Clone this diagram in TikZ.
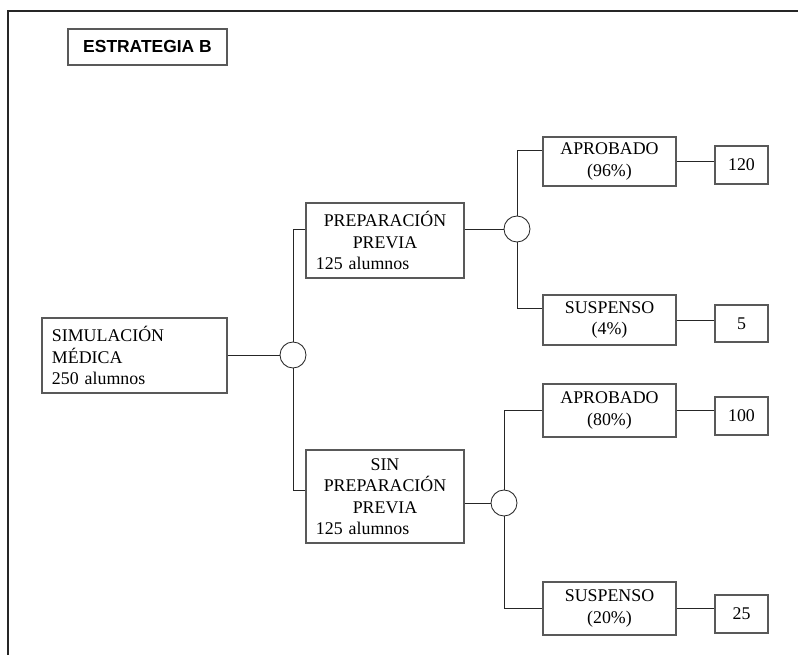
\documentclass[tikz,border=0pt]{standalone}
\usepackage{fontspec}
\setmainfont{Liberation Serif}
\newfontfamily\headfont{Liberation Sans}

\begin{document}
\begin{tikzpicture}[x=0.025cm,y=-0.025cm,line width=0.6pt,draw=black!85,
    caja/.style={draw=black!65,line width=0.8pt,inner xsep=0.25cm,inner ysep=0pt,
      font=\fontsize{12.7}{15.2}\selectfont},
    txtbox/.style={caja,align=left,text width=#1},
    probbox/.style={caja,align=center,minimum width=3.325cm,minimum height=#1},
    numbox/.style={caja,minimum width=1.325cm,minimum height=0.95cm},
    nudo/.style={circle,draw=black!85,line width=0.6pt,fill=white,minimum size=0.65cm,inner sep=0pt}]
                \useasboundingbox (0,0) rectangle (798,655);
                \draw[line width=1.6pt,black!85] (8,660) -- (8,11) -- (805,11);

                \node[caja,minimum width=3.975cm,minimum height=0.9cm,font=\headfont\bfseries\fontsize{12.4}{14}\selectfont] (titulo) at (147.5,47) {ESTRATEGIA B};

                \node[txtbox=4.125cm,minimum height=1.875cm] (sim) at (134.5,355.5) {SIMULACIÓN\\MÉDICA\\250 alumnos};
                \node[nudo] (c1) at (293,355) {};

                \node[txtbox=3.45cm,minimum height=1.875cm] (prep) at (385,240.5) {\centering PREPARACIÓN\\PREVIA\par\raggedright 125 alumnos};
                \node[txtbox=3.45cm,minimum height=2.325cm] (sin) at (385,496.5) {\centering SIN\\PREPARACIÓN\\PREVIA\par\raggedright 125 alumnos};

                \node[nudo] (c2) at (517,229) {};
                \node[nudo] (c3) at (504,503) {};

                \node[probbox=1.225cm] (apr1) at (609.5,161.5) {APROBADO\\(96\%)};
                \node[probbox=1.25cm] (sus1) at (609.5,320) {SUSPENSO\\(4\%)};
                \node[probbox=1.325cm] (apr2) at (609.5,410.5) {APROBADO\\(80\%)};
                \node[probbox=1.325cm] (sus2) at (609.5,608.5) {SUSPENSO\\(20\%)};

                \node[numbox] (n120) at (741.5,165) {120};
                \node[numbox,minimum height=0.925cm] (n5) at (741.5,323.5) {5};
                \node[numbox] (n100) at (741.5,416) {100};
                \node[numbox] (n25) at (741.5,614) {25};

                \coordinate (b1) at (293,229);
                \coordinate (b2) at (293,490);
                \coordinate (b3) at (517,150);
                \coordinate (b4) at (517,308);

                \draw (c1 -| sim.east) -- (c1);
                \draw (c1) -- (b1) -- (b1 -| prep.west);
                \draw (c1) -- (b2) -- (b2 -| sin.west);
                \draw (b1 -| prep.east) -- (c2);
                \draw (c2) -- (b3) -- (b3 -| apr1.west);
                \draw (c2) -- (b4) -- (b4 -| sus1.west);
                \draw (c3 -| sin.east) -- (c3);
                \draw (c3) |- (apr2);
                \draw (c3) |- (sus2);
                \draw (apr1.east) -- (apr1.east -| n120.west);
                \draw (sus1.east) -- (sus1.east -| n5.west);
                \draw (apr2.east) -- (apr2.east -| n100.west);
                \draw (sus2.east) -- (sus2.east -| n25.west);
            \end{tikzpicture}
\end{document}
